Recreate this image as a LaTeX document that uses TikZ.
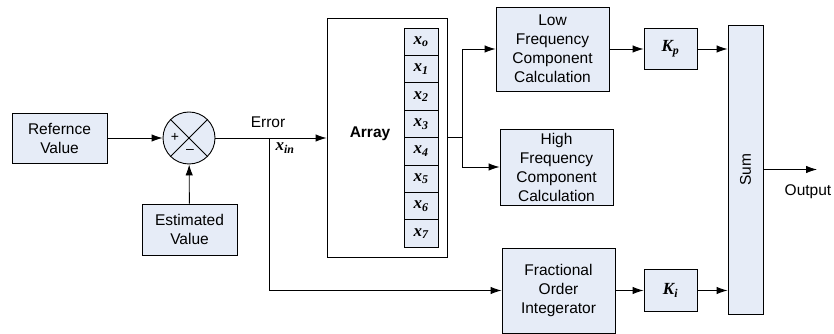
\documentclass[tikz,border=0pt]{standalone}
\usepackage{fontspec}
\usepackage{graphicx}
\setmainfont{Liberation Sans}
\newfontfamily\timesfont{Liberation Serif}
\usetikzlibrary{shapes, arrows.meta, positioning, calc}
\definecolor{boxfill}{RGB}{230,236,247}
\newcommand{\symb}[2]{{\fontsize{17}{19}\timesfont\bfseries\itshape #1\textsubscript{#2}}}

\begin{document}
\begin{tikzpicture}[
x=1pt, y=1pt,
font=\fontsize{15.5}{19}\selectfont,
>={Latex[length=11pt, width=7.5pt]},
block/.style={rectangle, draw, line width=0.9pt, fill=boxfill, align=center, inner sep=0pt},
cell/.style={rectangle, draw, line width=0.9pt, fill=boxfill, minimum width=34pt, minimum height=27.4pt, inner sep=0pt},
sum_node/.style={circle, draw, line width=0.9pt, fill=boxfill, minimum size=52pt, inner sep=0pt},
arr/.style={->, line width=0.9pt}
]
\useasboundingbox (0,0) rectangle (834,334);

% Input side
\node[block, minimum width=95pt, minimum height=50pt] (ref) at (59.5,196) {Refernce\\Value};
\node[sum_node] (sum) at (189,196) {};
\node[block, minimum width=95pt, minimum height=51pt] (est) at (189.5,104.5) {Estimated\\Value};
\draw[line width=0.9pt] (sum.45) -- (sum.225) (sum.135) -- (sum.315);
\node[font=\fontsize{14}{16}\selectfont] (plus) at ($(sum.center)+(-14,1)$) {+};
\node[font=\fontsize{14}{16}\selectfont] (minus) at ($(sum.center)+(1,-13)$) {--};

% Array
\node[rectangle, draw, line width=0.9pt, fill=white, minimum width=120pt, minimum height=239pt] (array) at (387,196.5) {};
\node[font=\fontsize{15.5}{19}\selectfont\bfseries] (arraylbl) at (370,200) {Array};
\foreach \i/\s in {0/o,1/1,2/2,3/3,4/4,5/5,6/6,7/7}
  \node[cell] (c\i) at (421,{306-13.7-27.4*\i}) {\symb{x}{\s}};

% Error signal
\node (err) at (268,212) {Error};
\node (xin) at (285,186) {\symb{x}{in}};
\coordinate (tap) at (269,196);
\coordinate (split) at (462,196.5);

% Processing blocks
\node[block, minimum width=113pt, minimum height=84pt] (low) at (552.5,285) {Low\\Frequency\\Component\\Calculation};
\node[block, minimum width=113pt, minimum height=76pt] (high) at (556.5,167) {High\\Frequency\\Component\\Calculation};
\node[block, minimum width=113pt, minimum height=85pt] (frac) at (558.5,43.5) {Fractional\\Order\\Integerator};
\node[block, minimum width=53pt, minimum height=41pt] (Kp) at (670.5,285) {\symb{K}{p}};
\node[block, minimum width=53pt, minimum height=42pt] (Ki) at (670.5,43.5) {\symb{K}{i}};
\node[block, minimum width=35pt, minimum height=289pt] (total) at (745.5,164.5) {\rotatebox{90}{Sum}};

% Output
\coordinate (out) at (817,164.5);
\node (outlbl) at (808,142) {Output};

% Edges
\draw[arr] (ref) -- (sum);
\draw[arr] (est) -- (sum);
\draw[arr] (sum.east) -- (sum.east -| array.west);
\draw[arr] (tap) |- (frac.west);
\draw[line width=0.9pt] (array.east) -- (split);
\draw[arr] (split) |- (low.west);
\draw[arr] (split) |- (high.west);
\draw[arr] (low) -- (Kp);
\draw[arr] (frac) -- (Ki);
\draw[arr] (Kp) -- (Kp -| total.west);
\draw[arr] (Ki) -- (Ki -| total.west);
\draw[arr] (total.east) -- (out);
\end{tikzpicture}
\end{document}
